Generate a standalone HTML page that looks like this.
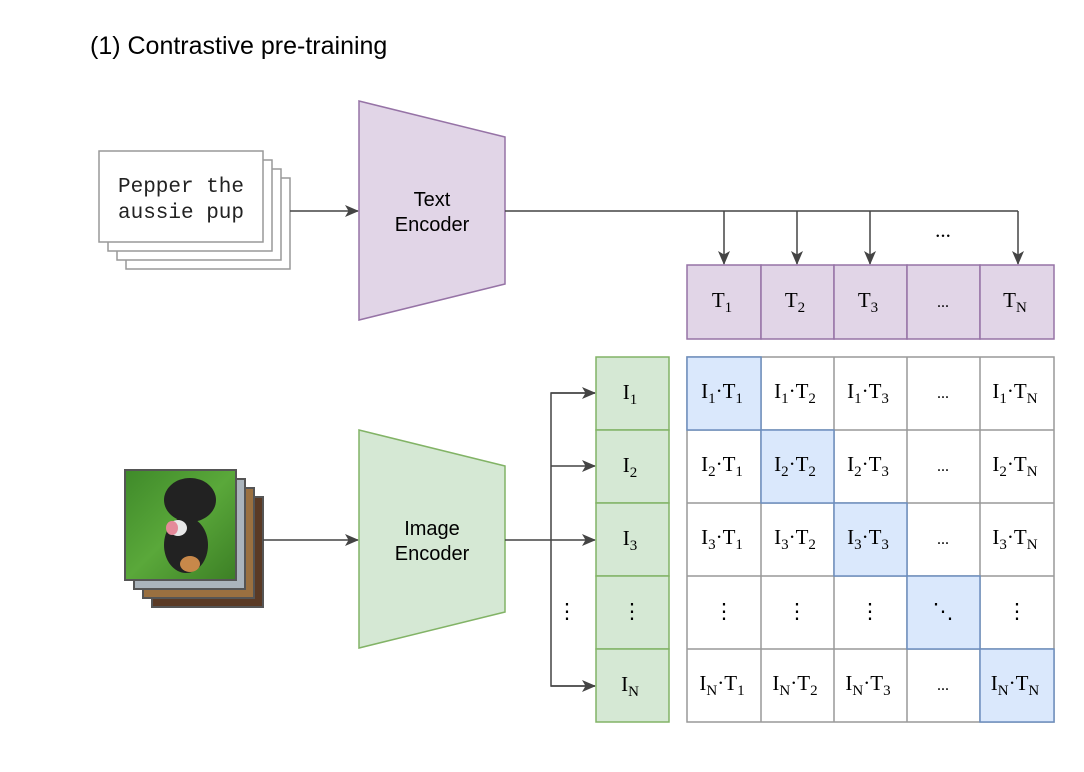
<!DOCTYPE html>
<html><head><meta charset="utf-8"><style>
html,body{margin:0;padding:0;background:#fff;}
svg{display:block;}
.s{font-family:"Liberation Serif",serif;font-size:21px;fill:#000;}
.h{font-family:"Liberation Sans",sans-serif;fill:#000;}
</style></head><body>
<svg width="1084" height="772" viewBox="0 0 1084 772" xmlns="http://www.w3.org/2000/svg">
<defs>
<marker id="a" markerWidth="14" markerHeight="12" refX="13" refY="6" orient="auto" markerUnits="userSpaceOnUse"><path d="M0,0 L14,6 L0,12 L3.5,6z" fill="#444"/></marker>
<linearGradient id="g" x1="0" y1="0" x2="1" y2="1"><stop offset="0" stop-color="#3f8a2a"/><stop offset="0.5" stop-color="#5aa83a"/><stop offset="1" stop-color="#3c7f25"/></linearGradient>
</defs>
<text x="90" y="54" class="h" font-size="25">(1) Contrastive pre-training</text>

<g fill="#fff" stroke="#999" stroke-width="1.5">
<rect x="126" y="178" width="164" height="91"/>
<rect x="117" y="169" width="164" height="91"/>
<rect x="108" y="160" width="164" height="91"/>
<rect x="99" y="151" width="164" height="91"/>
</g>
<text x="181" y="192" text-anchor="middle" font-family="Liberation Mono,monospace" font-size="21" fill="#222">Pepper the</text>
<text x="181" y="218" text-anchor="middle" font-family="Liberation Mono,monospace" font-size="21" fill="#222">aussie pup</text>
<line x1="290" y1="211" x2="358" y2="211" stroke="#444" stroke-width="1.5" marker-end="url(#a)"/>

<polygon points="359,101 505,137 505,284 359,320" fill="#e1d5e7" stroke="#9673a6" stroke-width="1.5"/>
<text x="432" y="206" text-anchor="middle" class="h" font-size="20">Text</text>
<text x="432" y="231" text-anchor="middle" class="h" font-size="20">Encoder</text>
<g stroke="#444" stroke-width="1.5" fill="none">
<path d="M505,211 H1018"/>
<line x1="724" y1="211" x2="724" y2="264" marker-end="url(#a)"/>
<line x1="797" y1="211" x2="797" y2="264" marker-end="url(#a)"/>
<line x1="870" y1="211" x2="870" y2="264" marker-end="url(#a)"/>
<line x1="1018" y1="211" x2="1018" y2="264" marker-end="url(#a)"/>
</g>
<text x="943" y="237" text-anchor="middle" class="s" font-size="16">...</text>

<g fill="#e1d5e7" stroke="#9673a6" stroke-width="1.5">
<rect x="687" y="265" width="74" height="74"/><rect x="761" y="265" width="73" height="74"/><rect x="834" y="265" width="73" height="74"/><rect x="907" y="265" width="73" height="74"/><rect x="980" y="265" width="74" height="74"/>
</g>
<g class="s" text-anchor="middle">
<text x="722" y="307">T<tspan dy="5" font-size="15">1</tspan></text>
<text x="795" y="307">T<tspan dy="5" font-size="15">2</tspan></text>
<text x="868" y="307">T<tspan dy="5" font-size="15">3</tspan></text>
<text x="943" y="307" font-size="16">...</text>
<text x="1015" y="307">T<tspan dy="5" font-size="15">N</tspan></text>
</g>

<rect x="152" y="497" width="111" height="110" fill="#5a3a25" stroke="#555" stroke-width="2"/>
<rect x="143" y="488" width="111" height="110" fill="#9a7040" stroke="#555" stroke-width="2"/>
<rect x="134" y="479" width="111" height="110" fill="#aab4bc" stroke="#555" stroke-width="2"/>
<rect x="125" y="470" width="111" height="110" fill="url(#g)" stroke="#555" stroke-width="2"/>
<ellipse cx="190" cy="500" rx="26" ry="22" fill="#222"/>
<ellipse cx="186" cy="545" rx="22" ry="28" fill="#222"/>
<ellipse cx="178" cy="528" rx="9" ry="8" fill="#e8e8e8"/>
<ellipse cx="172" cy="528" rx="6" ry="7" fill="#e58a9a"/>
<ellipse cx="190" cy="564" rx="10" ry="8" fill="#c8884a"/>
<line x1="263" y1="540" x2="358" y2="540" stroke="#444" stroke-width="1.5" marker-end="url(#a)"/>

<polygon points="359,430 505,466 505,612 359,648" fill="#d5e8d4" stroke="#82b366" stroke-width="1.5"/>
<text x="432" y="535" text-anchor="middle" class="h" font-size="20">Image</text>
<text x="432" y="560" text-anchor="middle" class="h" font-size="20">Encoder</text>
<g stroke="#444" stroke-width="1.5" fill="none">
<path d="M505,540 H551"/>
<path d="M595,393 H551 V686 H595"/>
<line x1="551" y1="393" x2="595" y2="393" marker-end="url(#a)"/>
<line x1="551" y1="466" x2="595" y2="466" marker-end="url(#a)"/>
<line x1="551" y1="540" x2="595" y2="540" marker-end="url(#a)"/>
<line x1="551" y1="686" x2="595" y2="686" marker-end="url(#a)"/>
</g>
<text x="567" y="618" text-anchor="middle" class="s">⋮</text>

<g fill="#d5e8d4" stroke="#82b366" stroke-width="1.5">
<rect x="596" y="357" width="73" height="73"/><rect x="596" y="430" width="73" height="73"/><rect x="596" y="503" width="73" height="73"/><rect x="596" y="576" width="73" height="73"/><rect x="596" y="649" width="73" height="73"/>
</g>
<g class="s" text-anchor="middle">
<text x="630" y="399">I<tspan dy="5" font-size="15">1</tspan></text>
<text x="630" y="472">I<tspan dy="5" font-size="15">2</tspan></text>
<text x="630" y="545">I<tspan dy="5" font-size="15">3</tspan></text>
<text x="632" y="618">⋮</text>
<text x="630" y="691">I<tspan dy="5" font-size="15">N</tspan></text>
</g>

<g fill="#fff" stroke="#999" stroke-width="1.5">
<rect x="687" y="357" width="367" height="365"/>
<path d="M761,357V722 M834,357V722 M907,357V722 M980,357V722 M687,430H1054 M687,503H1054 M687,576H1054 M687,649H1054"/>
</g>
<g fill="#dae8fc" stroke="#6c8ebf" stroke-width="1.5">
<rect x="687" y="357" width="74" height="73"/>
<rect x="761" y="430" width="73" height="73"/>
<rect x="834" y="503" width="73" height="73"/>
<rect x="907" y="576" width="73" height="73"/>
<rect x="980" y="649" width="74" height="73"/>
</g>
<g class="s" text-anchor="middle">
<text x="722" y="398">I<tspan dy="5" font-size="15">1</tspan><tspan dy="-5">·T</tspan><tspan dy="5" font-size="15">1</tspan></text>
<text x="795" y="398">I<tspan dy="5" font-size="15">1</tspan><tspan dy="-5">·T</tspan><tspan dy="5" font-size="15">2</tspan></text>
<text x="868" y="398">I<tspan dy="5" font-size="15">1</tspan><tspan dy="-5">·T</tspan><tspan dy="5" font-size="15">3</tspan></text>
<text x="943" y="398" font-size="16">...</text>
<text x="1015" y="398">I<tspan dy="5" font-size="15">1</tspan><tspan dy="-5">·T</tspan><tspan dy="5" font-size="15">N</tspan></text>
<text x="722" y="471">I<tspan dy="5" font-size="15">2</tspan><tspan dy="-5">·T</tspan><tspan dy="5" font-size="15">1</tspan></text>
<text x="795" y="471">I<tspan dy="5" font-size="15">2</tspan><tspan dy="-5">·T</tspan><tspan dy="5" font-size="15">2</tspan></text>
<text x="868" y="471">I<tspan dy="5" font-size="15">2</tspan><tspan dy="-5">·T</tspan><tspan dy="5" font-size="15">3</tspan></text>
<text x="943" y="471" font-size="16">...</text>
<text x="1015" y="471">I<tspan dy="5" font-size="15">2</tspan><tspan dy="-5">·T</tspan><tspan dy="5" font-size="15">N</tspan></text>
<text x="722" y="544">I<tspan dy="5" font-size="15">3</tspan><tspan dy="-5">·T</tspan><tspan dy="5" font-size="15">1</tspan></text>
<text x="795" y="544">I<tspan dy="5" font-size="15">3</tspan><tspan dy="-5">·T</tspan><tspan dy="5" font-size="15">2</tspan></text>
<text x="868" y="544">I<tspan dy="5" font-size="15">3</tspan><tspan dy="-5">·T</tspan><tspan dy="5" font-size="15">3</tspan></text>
<text x="943" y="544" font-size="16">...</text>
<text x="1015" y="544">I<tspan dy="5" font-size="15">3</tspan><tspan dy="-5">·T</tspan><tspan dy="5" font-size="15">N</tspan></text>
<text x="724" y="618">⋮</text>
<text x="797" y="618">⋮</text>
<text x="870" y="618">⋮</text>
<text x="943" y="618">⋱</text>
<text x="1017" y="618">⋮</text>
<text x="722" y="690">I<tspan dy="5" font-size="15">N</tspan><tspan dy="-5">·T</tspan><tspan dy="5" font-size="15">1</tspan></text>
<text x="795" y="690">I<tspan dy="5" font-size="15">N</tspan><tspan dy="-5">·T</tspan><tspan dy="5" font-size="15">2</tspan></text>
<text x="868" y="690">I<tspan dy="5" font-size="15">N</tspan><tspan dy="-5">·T</tspan><tspan dy="5" font-size="15">3</tspan></text>
<text x="943" y="690" font-size="16">...</text>
<text x="1015" y="690">I<tspan dy="5" font-size="15">N</tspan><tspan dy="-5">·T</tspan><tspan dy="5" font-size="15">N</tspan></text>
</g>
</svg>
</body></html>
